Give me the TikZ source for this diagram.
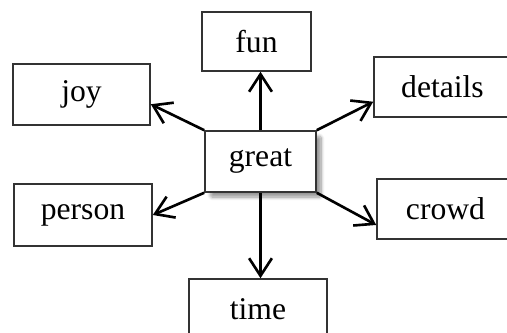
\documentclass[tikz,border=0pt]{standalone}
\usepackage{fontspec}
\setmainfont{Liberation Serif}
\usetikzlibrary{arrows.meta,shadows.blur}
\tikzset{
every node/.style=
    {rectangle,
    draw=black!80,
    line width=0.9pt,
    fill=white,
    align=center,
    font=\fontsize{18}{21}\selectfont,
    inner sep=0pt
    },
wordbox/.style=
    {minimum width=137*0.02cm,
    minimum height=60*0.02cm
    },
hubbox/.style=
    {minimum width=111*0.02cm,
    minimum height=61*0.02cm,
    blur shadow={shadow xshift=3pt,shadow yshift=-3pt,
        shadow blur steps=8,shadow blur extra rounding=1pt}
    },
link/.style=
    {draw=black,
    line width=1.5pt,
    -{Straight Barb[length=10pt,width=13pt,line width=1.5pt]}
    }}

\begin{document}
\begin{tikzpicture}[x=0.02cm,y=-0.02cm]
\useasboundingbox (0,0) rectangle (507,333);
\clip (0,0) rectangle (507,333);
% outer words
\node[wordbox,minimum width=109*0.02cm,minimum height=59*0.02cm] (fun) at (256.5,41.5) {fun};
\node[wordbox,minimum height=61*0.02cm] (joy) at (81.5,94.5) {joy};
\node[wordbox] (details) at (442.5,87) {details};
\node[wordbox,minimum width=138*0.02cm,minimum height=62*0.02cm] (person) at (83,215) {person};
\node[wordbox] (crowd) at (445.5,209) {crowd};
\node[wordbox,minimum width=138*0.02cm] (time) at (258,309) {time};
% centre word
\node[hubbox] (great) at (260.5,161.5) {great};
% arrows
\draw[link] (great.north) -- (great.north |- fun.south);
\draw[link] (great.north west) -- (joy.-8);
\draw[link] (great.north east) -- (details.192);
\draw[link] (great.south west) -- (person.east);
\draw[link] (great.south east) -- (crowd.193);
\draw[link] (great.south) -- (great.south |- time.north);
\end{tikzpicture}
\end{document}
